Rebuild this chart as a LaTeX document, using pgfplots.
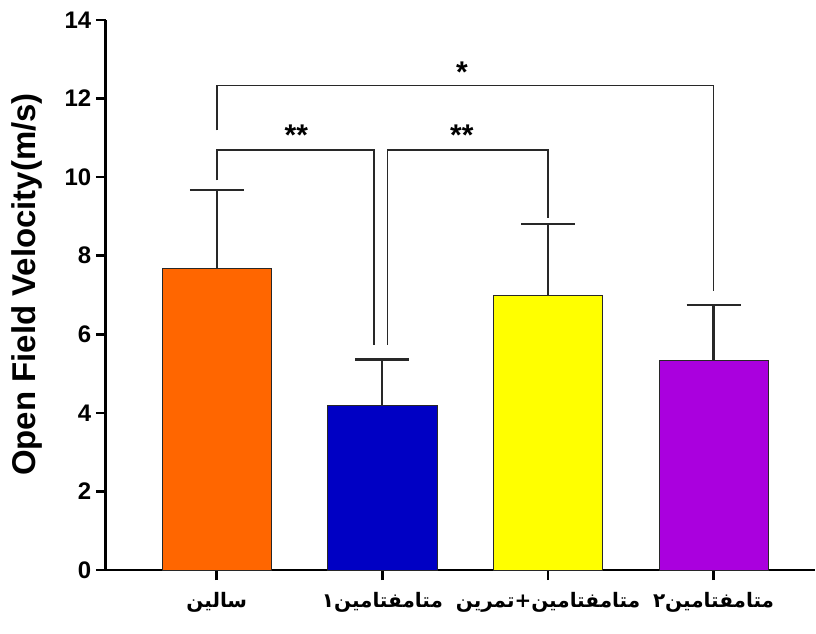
\documentclass[border=0pt]{standalone}
\usepackage{fontspec}
\setmainfont{Liberation Sans}
\newfontfamily\arabicfont[Script=Arabic]{DejaVu Sans}
\usepackage{pgfplots}
\pgfplotsset{compat=1.18}

\definecolor{cOrange}{RGB}{255,102,0}
\definecolor{cBlue}{RGB}{0,0,196}
\definecolor{cYellow}{RGB}{255,255,0}
\definecolor{cPurple}{RGB}{170,0,222}
\definecolor{cLine}{RGB}{40,40,40}

% each piece set as its own box, in visual order (left to right)
\newcommand{\ar}[1]{\hbox{\arabicfont\bfseries #1}}

\pgfplotsset{
  errs/.style={error bars/.cd, y dir=plus, y explicit,
    error bar style={line width=2.2pt, cLine},
    error mark options={rotate=90, line width=2.2pt, mark size=27pt, cLine}},
}

\begin{document}
\begin{tikzpicture}
\begin{axis}[
    scale only axis,
    width=710pt, height=551pt,
    xmin=-0.67, xmax=3.61,
    ymin=0, ymax=14,
    ytick={0,2,4,6,8,10,12,14},
    xtick={0,1,2,3},
    xticklabels={\ar{سالین},\ar{۱}\ar{متامفتامین},\ar{تمرین}\ar{+}\ar{متامفتامین},\ar{۲}\ar{متامفتامین}},
    axis x line*=bottom, axis y line*=left,
    axis line style={line width=2.8pt},
    tick style={line width=2.6pt, black},
    tick align=outside,
    major tick length=10pt,
    /pgf/number format/assume math mode=true,
    yticklabel style={font=\bfseries\fontsize{24}{24}\selectfont, xshift=-1pt},
    xticklabel style={font=\fontsize{20}{20}\selectfont, yshift=-9pt},
    ylabel={\bfseries Open Field Velocity(m/s)},
    ylabel style={font=\fontsize{33}{33}\selectfont,
        at={(axis description cs:-0.111,0.519)}, anchor=center},
    ybar, bar width=0.66, bar shift=0pt,
    clip=false,
]
\addplot[fill=cOrange, draw=cLine, line width=0.8pt, errs]
    coordinates {(0,7.67) +- (0,2.0)};
\addplot[fill=cBlue, draw=cLine, line width=0.8pt, errs]
    coordinates {(1,4.19) +- (0,1.17)};
\addplot[fill=cYellow, draw=cLine, line width=0.8pt, errs]
    coordinates {(2,6.98) +- (0,1.83)};
\addplot[fill=cPurple, draw=cLine, line width=0.8pt, errs]
    coordinates {(3,5.33) +- (0,1.42)};

% significance brackets
\addplot[sharp plot, no marks, line width=1.6pt, cLine] coordinates {(0,11.19) (0,12.33) (3,12.33) (3,7.1)};
\addplot[sharp plot, no marks, line width=1.6pt, cLine] coordinates {(0,9.92) (0,10.69) (0.95,10.69) (0.95,5.74)};
\addplot[sharp plot, no marks, line width=1.6pt, cLine] coordinates {(1.03,5.74) (1.03,10.69) (2,10.69) (2,8.96)};
\node[font=\bfseries\fontsize{30}{30}\selectfont, yshift=-7pt] at (axis cs:1.48,12.84) {*};
\node[font=\bfseries\fontsize{30}{30}\selectfont, yshift=-7pt] at (axis cs:0.48,11.24) {**};
\node[font=\bfseries\fontsize{30}{30}\selectfont, yshift=-7pt] at (axis cs:1.48,11.24) {**};
\end{axis}
\path[use as bounding box] (-106pt,-64pt) rectangle (710pt,571pt);
\end{tikzpicture}
\end{document}
